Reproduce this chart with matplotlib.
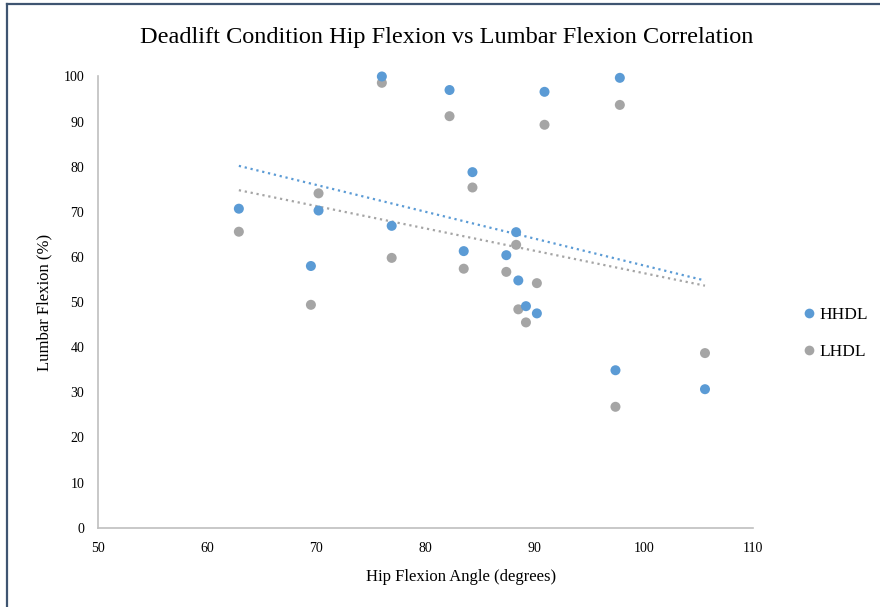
import numpy as np
import matplotlib
matplotlib.use("Agg")
import matplotlib.pyplot as plt
from matplotlib.lines import Line2D

plt.rcParams['font.family'] = ['Liberation Serif', 'DejaVu Serif']

# hip flexion angle (degrees), shared by both conditions
hip = [62.9, 70.2, 69.5, 76.0, 76.9, 82.2, 83.5, 84.3, 87.4, 88.3,
       88.5, 89.2, 90.2, 90.9, 97.4, 97.8, 105.6]
# lumbar flexion (%)
hhdl = [70.7, 70.3, 58.0, 100.0, 66.9, 97.0, 61.3, 78.8, 60.4, 65.5,
        54.8, 49.1, 47.5, 96.6, 34.9, 99.7, 30.7]
lhdl = [65.6, 74.1, 49.4, 98.6, 59.8, 91.2, 57.4, 75.4, 56.7, 62.7,
        48.4, 45.5, 54.2, 89.3, 26.8, 93.7, 38.7]

blue = '#5B9BD5'
grey = '#A5A5A5'

fig = plt.figure(figsize=(8.8, 6.07), dpi=100)
ax = fig.add_axes([0.1114, 0.1306, 0.7443, 0.7434])

x = np.array(hip)
for ys, c in [(lhdl, grey), (hhdl, blue)]:
    ax.scatter(x, ys, s=52, color=c, edgecolors='none', zorder=3, clip_on=False)
    m, b = np.polyfit(x, ys, 1)
    xx = np.array([x.min(), x.max()])
    ax.plot(xx, m * xx + b, color=c, lw=1.6, ls=(0, (1, 1.7)), zorder=2)

ax.set_xlim(50, 110)
ax.set_ylim(0, 100)
ax.set_xticks(range(50, 111, 10))
ax.set_yticks(range(0, 101, 10))
ax.tick_params(length=0, labelsize=10, pad=10)
for s in ['top', 'right']:
    ax.spines[s].set_visible(False)
for s in ['left', 'bottom']:
    ax.spines[s].set_color('#BFBFBF')
    ax.spines[s].set_linewidth(1.2)

fig.text(0.508, 0.938, 'Deadlift Condition Hip Flexion vs Lumbar Flexion Correlation',
         ha='center', va='center', fontsize=17.5)
fig.text(0.524, 0.05, 'Hip Flexion Angle (degrees)', ha='center', va='center', fontsize=12)
fig.text(0.051, 0.502, 'Lumbar Flexion (%)', ha='center', va='center',
         rotation=90, fontsize=12)

handles = [Line2D([], [], ls='none', marker='o', ms=7, color=blue, mec='none'),
           Line2D([], [], ls='none', marker='o', ms=7, color=grey, mec='none')]
fig.legend(handles, ['HHDL', 'LHDL'], loc='center left', bbox_to_anchor=(0.904, 0.4506),
           frameon=False, fontsize=12.5, handlelength=0.6, handletextpad=0.3,
           labelspacing=1.2, borderpad=0)

# dark frame lines on top and left edge
fig.add_artist(Line2D([0.0074, 1], [0.9926, 0.9926], transform=fig.transFigure,
                      color='#3F5571', lw=1.6))
fig.add_artist(Line2D([0.0074, 0.0074], [0, 0.9926], transform=fig.transFigure,
                      color='#3F5571', lw=1.6))

fig.savefig('out.png', dpi=100)
